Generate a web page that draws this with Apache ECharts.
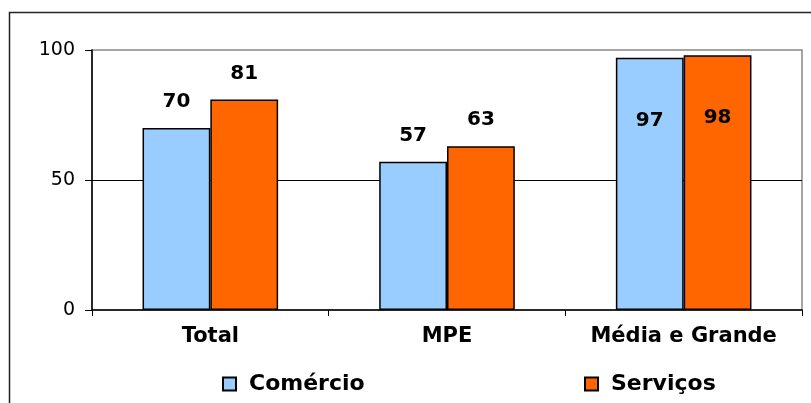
<!DOCTYPE html>
<html>
<head>
<meta charset="utf-8">
<script src="https://cdn.jsdelivr.net/npm/echarts@6/dist/echarts.min.js"></script>
<style>
html,body{margin:0;padding:0;background:#fff;}
#c{width:811px;height:403px;}
</style>
</head>
<body>
<div id="c"></div>
<script>
const categories = ['Total', 'MPE', 'Média e Grande'];
const comercio = [70, 57, 97];
const servicos = [81, 63, 98];
const yTicks = [0, 50, 100];

const FONT = 'DejaVu Sans';
function withLabels(arr) {
  return arr.map(v => v > 90
    ? { value: v, label: { position: 'insideTop', distance: 53 } }
    : v);
}

const chart = echarts.init(document.getElementById('c'), null, { renderer: 'canvas' });
const labelStyle = {
  show: true, position: 'top', distance: 16,
  fontFamily: FONT, fontWeight: 'bold', fontSize: 20, color: '#000'
};
const legendText = { fontFamily: FONT, fontWeight: 'bold', fontSize: 22, color: '#000', padding: [0, 0, 0, 8] };
chart.setOption({
  animation: false,
  backgroundColor: '#fff',
  graphic: [{
    type: 'rect', silent: true, z: -1,
    shape: { x: 9.5, y: 12.5, width: 900, height: 500 },
    style: { fill: 'none', stroke: '#222', lineWidth: 1.5 }
  }],
  grid: {
    left: 92, right: 9, top: 50, bottom: 93,
    show: true, borderColor: '#888', borderWidth: 1.5, backgroundColor: 'transparent'
  },
  legend: [{
    data: ['Comércio'], left: 222, top: 373, padding: 0,
    itemWidth: 13, itemHeight: 13, icon: 'rect',
    textStyle: legendText
  }, {
    data: ['Serviços'], left: 584, top: 373, padding: 0,
    itemWidth: 13, itemHeight: 13, icon: 'rect',
    textStyle: legendText
  }],
  xAxis: {
    type: 'category', data: categories,
    axisLine: { lineStyle: { color: '#000', width: 1.5 } },
    axisTick: { show: true, length: 6, lineStyle: { color: '#000', width: 1 } },
    axisLabel: { interval: 0, hideOverlap: false, fontFamily: FONT, fontWeight: 'bold', fontSize: 21, color: '#000', margin: 16 }
  },
  yAxis: {
    type: 'value', min: yTicks[0], max: yTicks[yTicks.length - 1], interval: yTicks[1] - yTicks[0],
    axisLine: { show: true, lineStyle: { color: '#000', width: 1.5 } },
    axisTick: { show: true, length: 7, lineStyle: { color: '#000', width: 1 } },
    axisLabel: { fontFamily: FONT, fontSize: 19, color: '#000', margin: 17 },
    splitLine: { show: true, showMinLine: false, showMaxLine: false, lineStyle: { color: '#000', width: 1 } }
  },
  series: [{
    name: 'Comércio', type: 'bar', data: withLabels(comercio),
    barGap: '0%', barCategoryGap: '42.7%',
    itemStyle: { color: '#99CCFF', borderColor: '#000', borderWidth: 1.5 },
    label: labelStyle
  }, {
    name: 'Serviços', type: 'bar', data: withLabels(servicos),
    barGap: '0%', barCategoryGap: '42.7%',
    itemStyle: { color: '#FF6600', borderColor: '#000', borderWidth: 1.5 },
    label: labelStyle
  }]
});
</script>
</body>
</html>
